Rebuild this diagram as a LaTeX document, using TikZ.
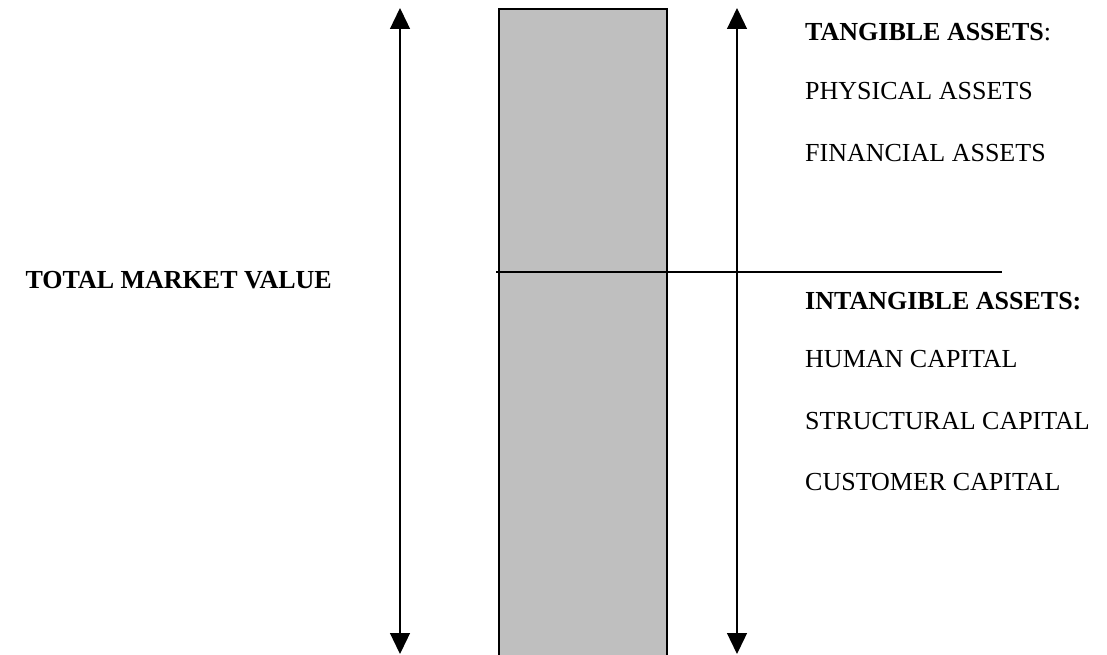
\documentclass[tikz,border=0pt]{standalone}
\usepackage{fontspec}
\setmainfont{Liberation Serif}
\usetikzlibrary{arrows.meta}
\begin{document}
\begin{tikzpicture}[x=1pt,y=-1pt,
  axis/.style={line width=1.3pt,{Triangle[width=20pt,length=21pt]}-{Triangle[width=20pt,length=21pt]}},
  bar/.style={draw,line width=1.6pt,fill=black!25},
  divider/.style={line width=1.6pt},
  lbl/.style={anchor=base west,inner sep=0pt,font=\fontsize{26}{30}\selectfont},
  head/.style={lbl,font=\fontsize{26}{30}\selectfont\bfseries}]
\useasboundingbox (0,0) rectangle (1107,655);
\fill[white] (0,0) rectangle (1107,655);
% bar
\node[bar,anchor=north west,minimum width=168pt,minimum height=680pt,inner sep=0pt] (bar) at (498,8) {};
% arrows
\coordinate (la) at (400,8);
\coordinate (lb) at (400,654);
\coordinate (ra) at (737,8);
\coordinate (rb) at (737,654);
\draw[axis] (lb) -- (la);
\draw[axis] (rb) -- (ra);
% divider
\coordinate (d1) at (496,272);
\coordinate (d2) at (1002,272);
\draw[divider] (d1) -- (d2);
% texts
\node[head,anchor=base east] (tmv) at (332,288) {TOTAL MARKET VALUE};
\node[lbl] (ta) at (805,41) {\textbf{TANGIBLE ASSETS}:};
\node[lbl] (pa) at (805,100) {PHYSICAL ASSETS};
\node[lbl] (fa) at (805,161) {FINANCIAL ASSETS};
\node[head] (ia) at (805,309) {INTANGIBLE ASSETS:};
\node[lbl] (hc) at (805,367) {HUMAN CAPITAL};
\node[lbl] (sc) at (805,429) {STRUCTURAL CAPITAL};
\node[lbl] (cc) at (805,490) {CUSTOMER CAPITAL};
\end{tikzpicture}
\end{document}
